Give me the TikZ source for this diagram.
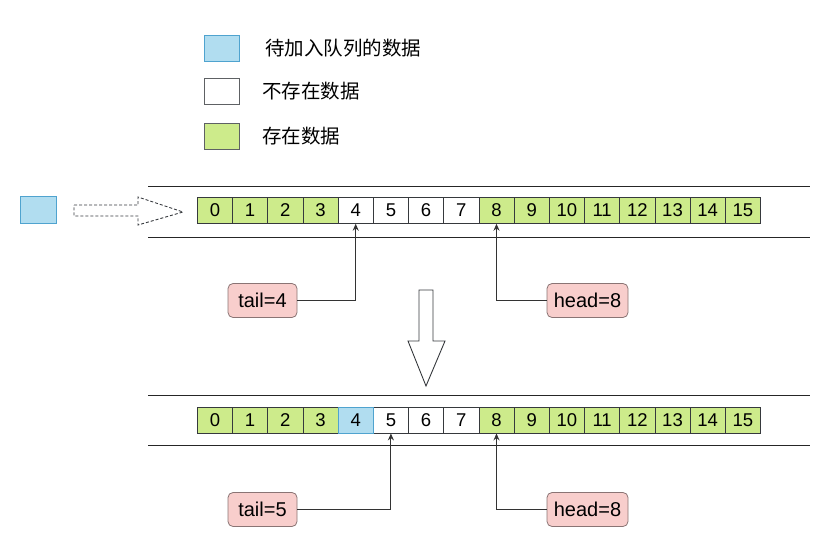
\documentclass[tikz,border=0pt]{standalone}
\usepackage{fontspec}
\setmainfont{Liberation Sans}
\newfontfamily\cjk{Noto Sans CJK SC}
\usetikzlibrary{arrows.meta}
\definecolor{gfill}{HTML}{CDEB8B}
\definecolor{gline}{HTML}{36393D}
\definecolor{bfill}{HTML}{B1DDF0}
\definecolor{bline}{HTML}{4FA3CF}
\definecolor{pfill}{HTML}{F8CECC}
\definecolor{pline}{HTML}{8A7474}
\definecolor{cline}{HTML}{333333}
\begin{document}
\begin{tikzpicture}[x=1pt,y=-1pt,
  cell/.style={draw=gline,line width=0.8pt,minimum width=35.2pt,minimum height=26pt,inner sep=0pt,font=\fontsize{18.5}{18.5}\selectfont},
  greencell/.style={fill=gfill},
  whitecell/.style={fill=white},
  bluecell/.style={fill=bfill,draw=bline},
  ptr/.style={draw=pline,fill=pfill,rounded corners=5pt,line width=0.8pt,minimum width=69pt,minimum height=34pt,inner sep=0pt,font=\fontsize{20}{20}\selectfont},
  conn/.style={draw=cline,line width=1.1pt,-{Stealth[length=7pt,width=6pt]}},
  rail/.style={draw=black!85,line width=1pt},
  legbox/.style={line width=1pt,minimum width=35pt,minimum height=26pt,inner sep=0pt},
  legtext/.style={anchor=west,inner sep=0pt,font=\cjk\fontsize{19.5}{19.5}\selectfont}
]
\useasboundingbox (0,0) rectangle (829,538);
% legend
\node[legbox,draw=bline,fill=bfill] (lb) at (222,48) {};
\node[legbox,draw=gline!80,fill=white] (lw) at (222,91) {};
\node[legbox,draw=gline!80,fill=gfill] (lg) at (222,136) {};
\node[legtext] (tb) at (265,48) {待加入队列的数据};
\node[legtext] (tw) at (262,91) {不存在数据};
\node[legtext] (tg) at (262,136) {存在数据};
% rails
\draw[rail] (148,186) -- (810,186);
\draw[rail] (148,237) -- (810,237);
\draw[rail] (148,395) -- (810,395);
\draw[rail] (148,445) -- (810,445);
% incoming element
\node[legbox,draw=bline,fill=bfill,minimum height=27pt,minimum width=36pt] (inc) at (38,210) {};
\draw[line width=0.9pt,draw=gline,dash pattern=on 3pt off 2pt]
  (74,205) -- (138,205) -- (138,197) -- (183,212) -- (138,225) -- (138,216) -- (74,216) -- cycle;
% row 1
\foreach \i in {0,...,15}{
  \ifnum\i<4 \def\st{greencell}\else\ifnum\i<8 \def\st{whitecell}\else\def\st{greencell}\fi\fi
  \node[cell,\st] (a\i) at ({197.3+35.2*(\i+0.5)},210.3) {\i};
}
% row 2
\foreach \i in {0,...,15}{
  \ifnum\i<4 \def\st{greencell}\else\ifnum\i=4 \def\st{bluecell}\else\ifnum\i<8 \def\st{whitecell}\else\def\st{greencell}\fi\fi\fi
  \node[cell,\st] (b\i) at ({197.3+35.2*(\i+0.5)},420) {\i};
}
\node[cell,bluecell] at (b4) {4};
% pointers row 1
\node[ptr] (t1) at (262.5,300.5) {tail=4};
\node[ptr,minimum width=81pt] (h1) at (587.5,300.5) {head=8};
\draw[conn] (t1.east) -| (a4.south);
\draw[conn] (h1.west) -| (a8.south);
% pointers row 2
\node[ptr] (t2) at (262.5,509.5) {tail=5};
\node[ptr,minimum width=81pt] (h2) at (587.5,509.5) {head=8};
\draw[conn] (t2.east) -| (b5.south);
\draw[conn] (h2.west) -| (b8.south);
% big arrow
\draw[draw=gline,line width=0.9pt,fill=white]
  (419,290) -- (433,290) -- (433,341) -- (445,341) -- (426,386) -- (408,341) -- (419,341) -- cycle;
\end{tikzpicture}
\end{document}
